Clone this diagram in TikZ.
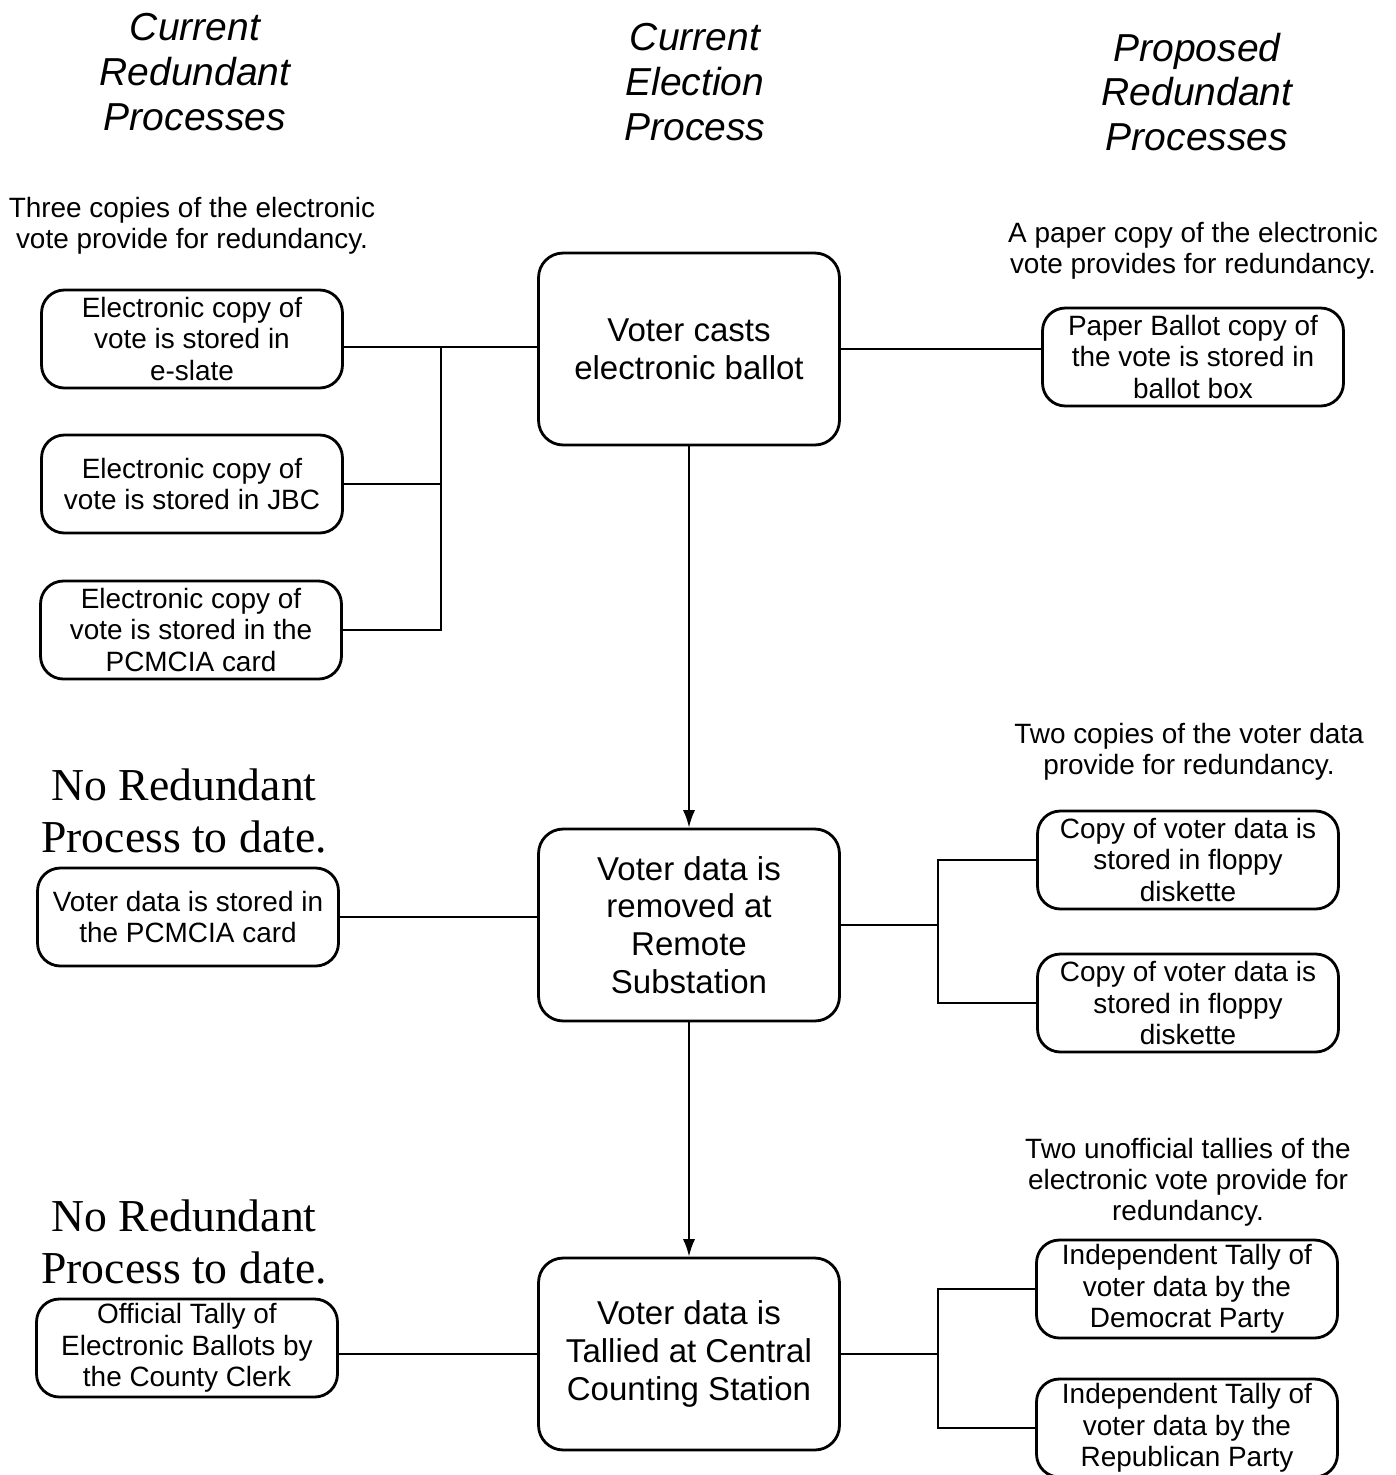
\documentclass[tikz,border=0pt]{standalone}
\usepackage{fontspec}
\setmainfont{Liberation Sans}
\newfontfamily\timesfont{Liberation Serif}
\usetikzlibrary{arrows.meta, calc}

\begin{document}
\begin{tikzpicture}[x=0.02cm, y=-0.02cm]
\tikzset{proc/.style={draw, rounded corners=14pt, line width=1.6pt, minimum width=6.02cm, minimum height=3.84cm, inner sep=2pt, align=center, font=\fontsize{18.8}{21.5}\selectfont}}
\tikzset{copybox/.style={draw, rounded corners=13pt, line width=1.6pt, minimum width=6.02cm, minimum height=1.96cm, inner sep=1pt, align=center, font=\fontsize{15.9}{18}\selectfont}}
\tikzset{note/.style={align=center, inner sep=0pt, font=\fontsize{15.9}{17.7}\selectfont}}
\tikzset{head/.style={align=center, inner sep=0pt, font=\itshape\fontsize{22.2}{25.4}\selectfont}}
\tikzset{none/.style={align=center, inner sep=0pt, font=\timesfont\fontsize{26}{29.6}\selectfont}}
\tikzset{wire/.style={line width=1.2pt}}

\useasboundingbox (0,0) rectangle (1396,1475);

%% column heads
\node[head] at (195,72) (hleft) {Current\\Redundant\\Processes};
\node[head] at (695,82) (hmid) {Current\\Election\\Process};
\node[head] at (1197,92) (hright) {Proposed\\Redundant\\Processes};

%% notes
\node[note] at (192,226) (n1) {Three copies of the electronic\\vote provide for redundancy.};
\node[note] at (1193,251) (n2) {A paper copy of the electronic\\vote provides for redundancy.};
\node[note] at (1189,752) (n3) {Two copies of the voter data\\provide for redundancy.};
\node[note] at (1188,1182) (n4) {Two unofficial tallies of the\\electronic vote provide for\\redundancy.};
\node[none] at (184,811) (x1) {No Redundant\\Process to date.};
\node[none] at (184,1242) (x2) {No Redundant\\Process to date.};

%% election process
\node[proc] at (689,349) (m1) {Voter casts\\electronic ballot};
\node[proc] at (689,925) (m2) {Voter data is\\removed at\\Remote\\Substation};
\node[proc] at (689,1354) (m3) {Voter data is\\Tallied at Central\\Counting Station};

%% current redundant
\node[copybox] at (192,339) (l1) {Electronic copy of\\vote is stored in\\e-slate};
\node[copybox] at (192,484) (l2) {Electronic copy of\\vote is stored in JBC};
\node[copybox] at (191,630) (l3) {Electronic copy of\\vote is stored in the\\PCMCIA card};
\node[copybox] at (188,917) (l4) {Voter data is stored in\\the PCMCIA card};
\node[copybox] at (187,1348) (l5) {Official Tally of\\Electronic Ballots by\\the County Clerk};

%% proposed redundant
\node[copybox] at (1193,357) (r1) {Paper Ballot copy of\\the vote is stored in\\ballot box};
\node[copybox] at (1188,860) (r2) {Copy of voter data is\\stored in floppy\\diskette};
\node[copybox] at (1188,1003) (r3) {Copy of voter data is\\stored in floppy\\diskette};
\node[copybox] at (1187,1289) (r4) {Independent Tally of\\voter data by the\\Democrat Party};
\node[copybox] at (1187,1428) (r5) {Independent Tally of\\voter data by the\\Republican Party};

\coordinate (b1) at (441,347);
\coordinate (b2) at (938,925);
\coordinate (b3) at (938,1354);

\draw[wire] (m1.west |- b1) -- (b1 -| l1.east);
\draw[wire] (l2.east) -- (l2.east -| b1);
\draw[wire] (l3.east) -- (l3.east -| b1) -- (b1);
\draw[wire] (m1.east) -- (m1.east -| r1.west);
\draw[wire] (l4.east) -- (l4.east -| m2.west);
\draw[wire] (m3.west) -- (m3.west -| l5.east);

\draw[wire] (m2.east) -- (m2.east -| b2);
\draw[wire] (r2.west) -- (r2.west -| b2) -- (r3.west -| b2) -- (r3.west);
\draw[wire] (m3.east) -- (m3.east -| b3);
\draw[wire] (r4.west) -- (r4.west -| b3) -- (r5.west -| b3) -- (r5.west);

\draw[wire, -{Latex[length=10pt,width=7pt]}] (m1) -- (m2);
\draw[wire, -{Latex[length=10pt,width=7pt]}] (m2) -- (m3);

\end{tikzpicture}
\end{document}
